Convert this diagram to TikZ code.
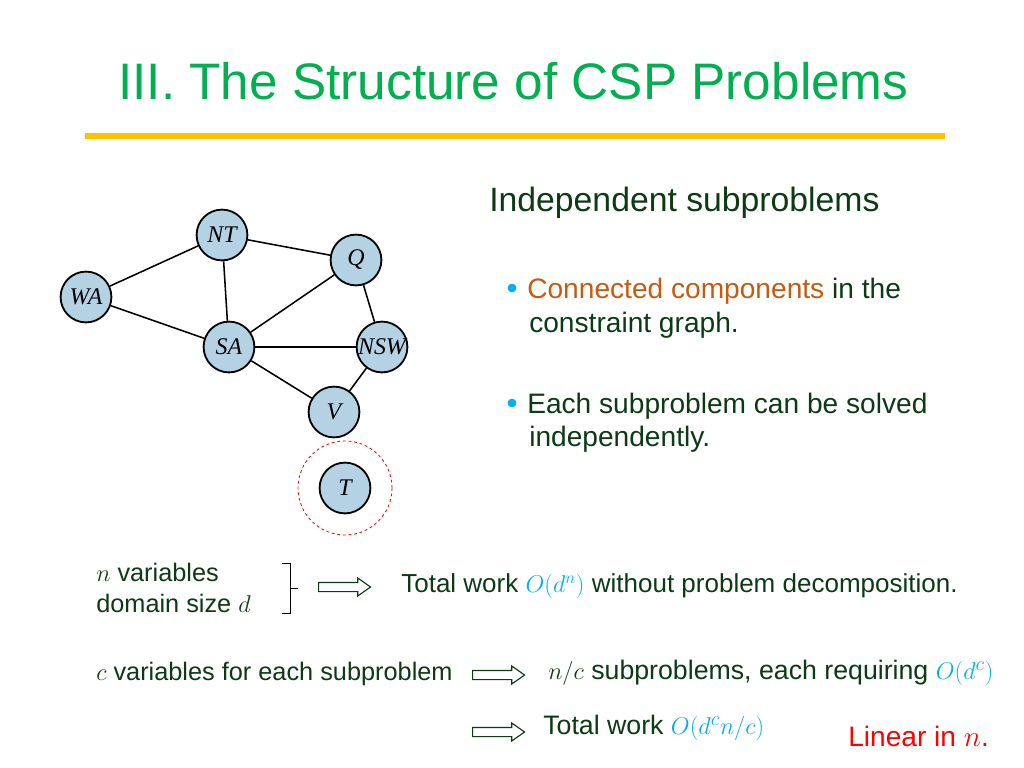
\documentclass[tikz,border=0pt]{standalone}
\usepackage{fontspec}
\setmainfont{Liberation Sans}
\newfontfamily\graphfont{Liberation Serif}
\usetikzlibrary{shapes.arrows}

\definecolor{titlegreen}{RGB}{0,176,80}
\definecolor{textgreen}{RGB}{12,58,20}
\definecolor{rulegold}{RGB}{255,192,0}
\definecolor{nodeblue}{RGB}{180,210,228}
\definecolor{mathblue}{RGB}{0,176,240}
\definecolor{compbrown}{RGB}{197,90,17}

\begin{document}
\begin{tikzpicture}[x=0.025cm, y=-0.025cm,
  every node/.style={text=textgreen, inner sep=0pt},
  state/.style={circle, draw=black, line width=1.3pt, fill=nodeblue,
    minimum size=1.27cm, inner sep=0pt, text=black,
    font=\graphfont\itshape\fontsize{17}{20}\selectfont},
  body/.style={anchor=base west, font=\fontsize{20}{24}\selectfont},
  small/.style={anchor=base west, font=\fontsize{18}{22}\selectfont},
  implies/.style={single arrow, draw=textgreen, line width=0.8pt, fill=white,
    minimum height=1.3cm, single arrow head extend=0.11cm,
    inner xsep=0pt, inner ysep=0.1cm, single arrow tip angle=70, anchor=west}]
  \useasboundingbox (0,0) rectangle (1024,768);

  % title
  \node[anchor=base west, text=titlegreen, font=\fontsize{36.5}{42}\selectfont]
    (title) at (118,100) {III. The Structure of CSP Problems};
  \draw[rulegold, line width=4.2pt] (85,136) -- (945,136);

  % constraint graph
  \node[state] (NT)  at (222,235) {NT};
  \node[state] (Q)   at (356,260) {Q};
  \node[state] (WA)  at (86,297)  {WA};
  \node[state] (SA)  at (229,347) {SA};
  \node[state] (NSW) at (382,347) {NSW};
  \node[state] (V)   at (334,412) {V};
  \node[state] (T)   at (345,488) {T};
  \foreach \a/\b in {WA/NT, WA/SA, NT/SA, NT/Q, SA/Q, SA/NSW, SA/V, Q/NSW, NSW/V}
    \draw[line width=1.1pt] (\a) -- (\b);
  \node[circle, draw=red, dashed, dash pattern=on 2pt off 2pt, line width=0.6pt,
    minimum size=2.35cm] (Tring) at (T) {};

  % right column
  \node[anchor=base west, font=\fontsize{24}{28}\selectfont]
    (indep) at (489,211) {Independent subproblems};
  \fill[mathblue] (512,288) circle (0.11cm);
  \node[body] (conn) at (527,298) {\textcolor{compbrown}{Connected components} in the};
  \node[body] (conn2) at (529,332) {constraint graph.};
  \fill[mathblue] (512,403) circle (0.11cm);
  \node[body] (each) at (527,413) {Each subproblem can be solved};
  \node[body] (each2) at (529,446) {independently.};

  % complexity
  \node[small] (nvar) at (96,581) {$n$ variables};
  \node[small] (dsize) at (96,612) {domain size $d$};
  \draw[line width=0.7pt] (282,563) -- (290,563) -- (290,613) -- (282,613)
    (290,588) -- (298,588);
  \node[implies] (imp1) at (318,587) {};
  \node[small, font=\fontsize{18.5}{22}\selectfont] (work1) at (401,592)
    {Total work \textcolor{mathblue}{$O(d^n)$} without problem decomposition.};

  \node[small] (cvar) at (96,680) {$c$ variables for each subproblem};
  \node[implies] (imp2) at (472,675) {};
  \node[small, font=\fontsize{19}{23}\selectfont] (nsub) at (548,679)
    {$n/c$ subproblems, each requiring \textcolor{mathblue}{$O(d^c)$}};
  \node[implies] (imp3) at (472,732) {};
  \node[small, font=\fontsize{19}{23}\selectfont] (work2) at (543,734)
    {Total work \textcolor{mathblue}{$O(d^cn/c)$}};
  \node[small, text=red, font=\fontsize{20}{24}\selectfont] (linear) at (848,746)
    {Linear in $n$.};
\end{tikzpicture}
\end{document}
